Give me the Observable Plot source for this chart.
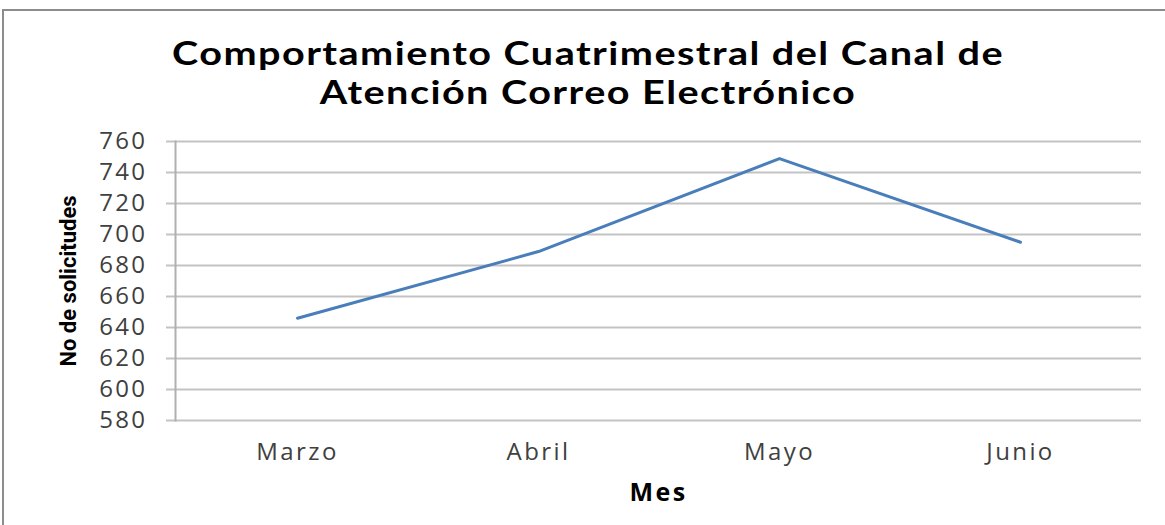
<!DOCTYPE html>
<html><head><meta charset="utf-8">
<script src="https://cdn.jsdelivr.net/npm/d3@7"></script>
<script src="https://cdn.jsdelivr.net/npm/@observablehq/plot@0.6"></script>
<style>
body{margin:0;background:#fff;}
#wrap{position:relative;width:1165px;height:525px;overflow:hidden;background:#fff;}
#border{position:absolute;left:2px;top:9px;width:1200px;height:600px;border-top:2px solid #8c8c8c;border-left:2px solid #8c8c8c;}
.tline{position:absolute;left:100px;width:976px;text-align:center;font-family:Lato,'Open Sans',sans-serif;font-weight:bold;font-size:33px;line-height:39px;letter-spacing:1.2px;color:#000;white-space:nowrap;transform:scaleX(1.2);transform-origin:50% 50%;}
#chart{position:absolute;left:0;top:0;}
#chart svg text{letter-spacing:2.4px;}
</style></head>
<body><div id="wrap"><div id="border"></div><div id="chart"></div><div id="t1" class="tline" style="top:33px"></div><div id="t2" class="tline" style="top:72px"></div></div>
<script>
const titleLines = ["Comportamiento Cuatrimestral del Canal de", "Atención Correo Electrónico"];
const months = ["Marzo", "Abril", "Mayo", "Junio"];
const solicitudes = [646, 689, 749, 695];
const yTicks = [580, 600, 620, 640, 660, 680, 700, 720, 740, 760];
const xLabel = "Mes";
const yLabel = "No de solicitudes";

document.getElementById("t1").textContent = titleLines[0];
document.getElementById("t2").textContent = titleLines[1];
const data = months.map((m, i) => ({mes: m, v: solicitudes[i]}));

const chart = Plot.plot({
  width: 1165, height: 525,
  marginLeft: 175, marginRight: 24, marginTop: 141, marginBottom: 105,
  style: {background: "transparent", fontFamily: "'Open Sans', sans-serif", fontSize: "24px", color: "#404040"},
  x: {type: "point", domain: months, padding: 0.5},
  y: {domain: [580, 760]},
  marks: [
    Plot.gridY(yTicks, {stroke: "#c3c3c3", strokeOpacity: 1, strokeWidth: 2}),
    Plot.axisY(yTicks, {tickSize: 9, tickPadding: 19, stroke: "#c3c3c3", strokeWidth: 2, label: null, fill: "#404040", fontSize: 24}),
    Plot.axisX({tickSize: 0, tickPadding: 22, label: null, fill: "#404040", fontSize: 24}),
    Plot.frame({anchor: "left", stroke: "#b0b0b0", strokeWidth: 2}),
    Plot.line(data, {x: "mes", y: "v", stroke: "#4a7ebb", strokeWidth: 3}),
    Plot.text([xLabel], {frameAnchor: "bottom", dy: 72, fontWeight: "bold", fontSize: 25, fill: "#000", lineAnchor: "middle"}),
    Plot.text([yLabel], {frameAnchor: "left", dx: -107, rotate: -90, textAnchor: "middle", fontWeight: "bold", fontSize: 22, fill: "#000", fontFamily: "'Liberation Sans Narrow', 'Roboto', sans-serif", lineAnchor: "middle"})
  ]
});
chart.querySelectorAll("text").forEach(t => { if (t.textContent === yLabel) t.style.letterSpacing = "0px"; });
document.getElementById("chart").appendChild(chart);
</script>
</body></html>
